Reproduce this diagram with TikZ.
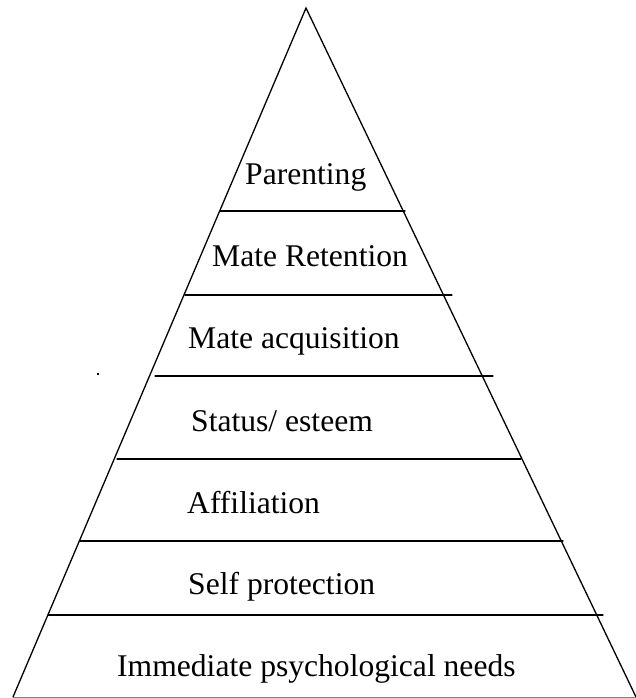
\documentclass[tikz,border=0pt]{standalone}
\usepackage{fontspec}
\setmainfont{Liberation Serif}
\begin{document}
\begin{tikzpicture}[x=1pt,y=-1pt,
  lvl/.style={line width=1.3pt,line cap=round},
  lbl/.style={anchor=base west,inner sep=0pt,font=\fontsize{31.6}{38}\selectfont}]
\useasboundingbox (0,0) rectangle (635,698);
\coordinate (apex) at (306,8);
\coordinate (bl) at (13,697);
\coordinate (br) at (636,697);
\draw[lvl] (bl) -- (apex) -- (br);
\draw[gray,line width=1pt] (bl) -- (br);
\foreach \y/\xa/\xb [count=\i] in {211/220/405,295/185/452,376/155/493,459/117/521,541/80/563,615/48/603}{
  \coordinate (l\i) at (\xa,\y);
  \coordinate (r\i) at (\xb,\y);
  \draw[lvl] (l\i) -- (r\i);
}
\node[lbl] (t1) at (245,184) {Parenting};
\node[lbl] (t2) at (212,266) {Mate Retention};
\node[lbl] (t3) at (188,348) {Mate acquisition};
\node[lbl] (t4) at (191,431) {Status/ esteem};
\node[lbl] (t5) at (187,513) {Affiliation};
\node[lbl] (t6) at (188,594) {Self protection};
\node[lbl] (t7) at (117,676) {Immediate psychological needs};
\fill (97.2,373.2) rectangle (98.8,374.8);
\end{tikzpicture}
\end{document}
